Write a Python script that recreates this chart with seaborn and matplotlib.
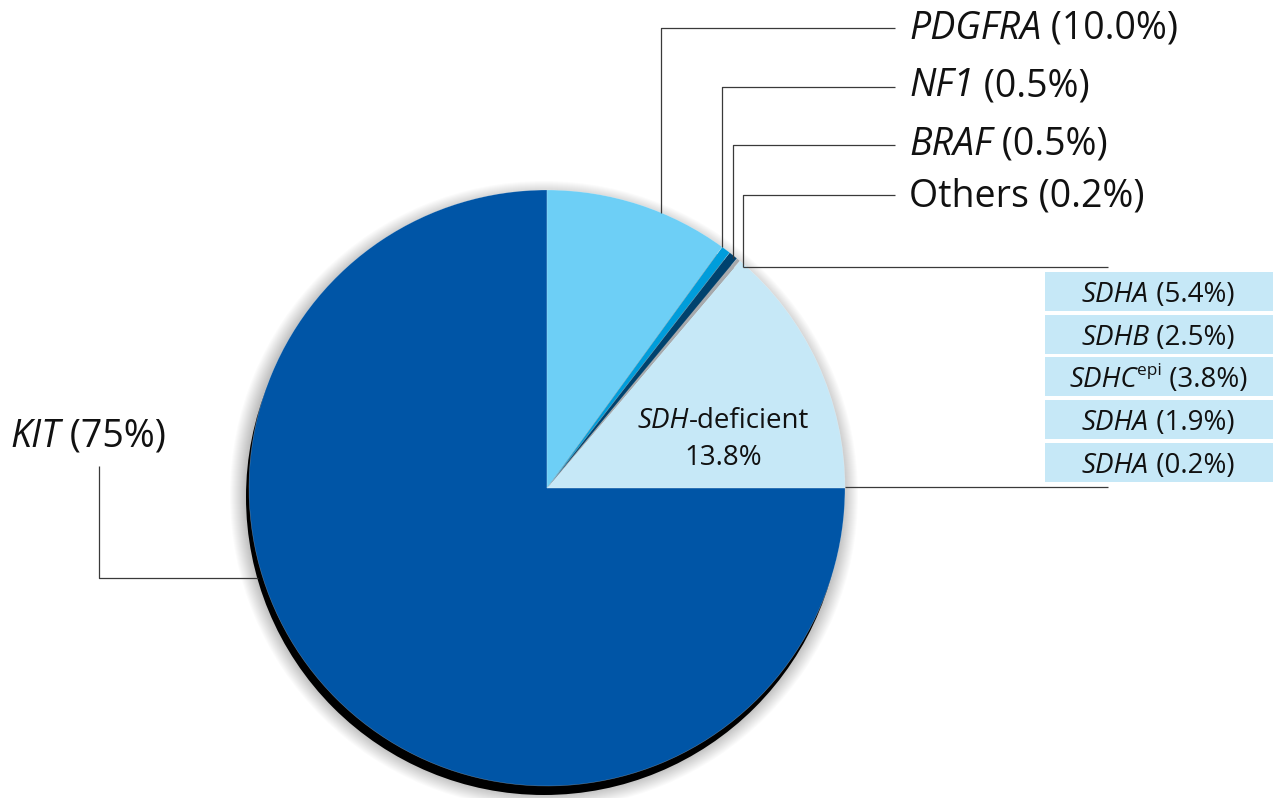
import matplotlib
matplotlib.use("Agg")
import matplotlib.pyplot as plt
import seaborn as sns
from matplotlib.patches import Circle, Rectangle

# ── Data ────────────────────────────────────────────────────────────────────
slice_names = ["KIT", "SDH", "Others", "BRAF", "NF1", "PDGFRA"]
slice_values = [75.0, 13.8, 0.2, 0.5, 0.5, 10.0]
slice_colors = ["#0055A6", "#C6E8F7", "#A7A9AC", "#00426E", "#009DDB", "#6DCFF6"]

# label pieces: (text, style) ; "sup" = small raised upright text
outer_labels = [
    [("PDGFRA", "italic"), (" (10.0%)", "normal")],
    [("NF1", "italic"), (" (0.5%)", "normal")],
    [("BRAF", "italic"), (" (0.5%)", "normal")],
    [("Others (0.2%)", "normal")],
]
kit_label = [("KIT", "italic"), (" (75%)", "normal")]
sdh_labels = [
    [("SDHA", "italic"), (" (5.4%)", "normal")],
    [("SDHB", "italic"), (" (2.5%)", "normal")],
    [("SDHC", "italic"), ("epi", "sup"), (" (3.8%)", "normal")],
    [("SDHA", "italic"), (" (1.9%)", "normal")],
    [("SDHA", "italic"), (" (0.2%)", "normal")],
]
sdh_inner = [[("SDH", "italic"), ("-deficient", "normal")], [("13.8%", "normal")]]

# ── Style ───────────────────────────────────────────────────────────────────
sns.set_theme(style="white")
plt.rcParams["font.family"] = ["Open Sans", "DejaVu Sans"]

W, H = 1275, 798
fig = plt.figure(figsize=(W / 100, H / 100), dpi=100)
ax = fig.add_axes([0, 0, 1, 1])
ax.set_xlim(0, W)
ax.set_ylim(0, H)
renderer = fig.canvas.get_renderer()


def Y(py):
    # pixel row (top-down) -> data y (bottom-up)
    return H - py


def rich_text(x, baseline_py, parts, size, ha="left", zorder=4):
    """Place a row of differently styled text pieces on one baseline."""
    y = Y(baseline_py)
    items = []
    cur = x
    for s, style in parts:
        fs = size * 0.62 if style == "sup" else size
        yy = y + size * 0.62 if style == "sup" else y
        st = "normal" if style == "sup" else style
        t = ax.text(cur, yy, s, fontsize=fs, fontstyle=st, ha="left",
                    va="baseline", color="#111111", zorder=zorder)
        cur = t.get_window_extent(renderer).x1
        items.append(t)
    if ha == "center":
        shift = (cur - x) / 2
        for t in items:
            t.set_x(t.get_position()[0] - shift)


cx, cy, R = 547, Y(488), 298
line_kw = dict(color="#3a3a3a", lw=0.9, solid_capstyle="butt")

# soft shadow + hard black rim
for i in range(16, 0, -1):
    ax.add_patch(Circle((cx - 3, cy - 7), R + i, color="black",
                        alpha=0.016, lw=0, zorder=0))
ax.add_patch(Circle((cx - 3, cy - 9), R, color="black", lw=0, zorder=1))

wedges, _ = ax.pie(slice_values, colors=sns.color_palette(slice_colors),
                   startangle=90, counterclock=True, center=(cx, cy),
                   radius=R, frame=True,
                   wedgeprops=dict(lw=0.4, edgecolor="#ffffff55"))
for w in wedges:
    w.set_zorder(2)

# ── Leader lines ─────────────────────────────────────────────────────────────
leaders = [
    [(661, 213), (661, 28), (895, 28)],
    [(722, 247), (722, 87), (895, 87)],
    [(733, 258), (733, 145), (895, 145)],
    [(743, 267), (743, 195), (895, 195)],
    [(743, 267), (1108, 267)],
    [(845, 487), (1108, 487)],
    [(258, 578), (99, 578), (99, 466)],
]
for pts in leaders:
    ax.plot([p[0] for p in pts], [Y(p[1]) for p in pts], zorder=3, **line_kw)

# ── Labels ───────────────────────────────────────────────────────────────────
for parts, base in zip(outer_labels, [39, 96, 155, 206]):
    rich_text(909, base, parts, 27)
rich_text(10, 447, kit_label, 27)

box_tops = [272, 315, 357, 400, 443]
for parts, top in zip(sdh_labels, box_tops):
    ax.add_patch(Rectangle((1045, Y(top + 39)), 228, 39, color="#C6E8F7",
                           lw=0, zorder=2))
    rich_text(1158, top + 30, parts, 20, ha="center")

rich_text(723, 428, sdh_inner[0], 20, ha="center")
rich_text(723, 465, sdh_inner[1], 20, ha="center")

ax.set_xlim(0, W)
ax.set_ylim(0, H)
ax.set_aspect("auto")
ax.axis("off")

fig.savefig("out.png", dpi=100, facecolor="white")
